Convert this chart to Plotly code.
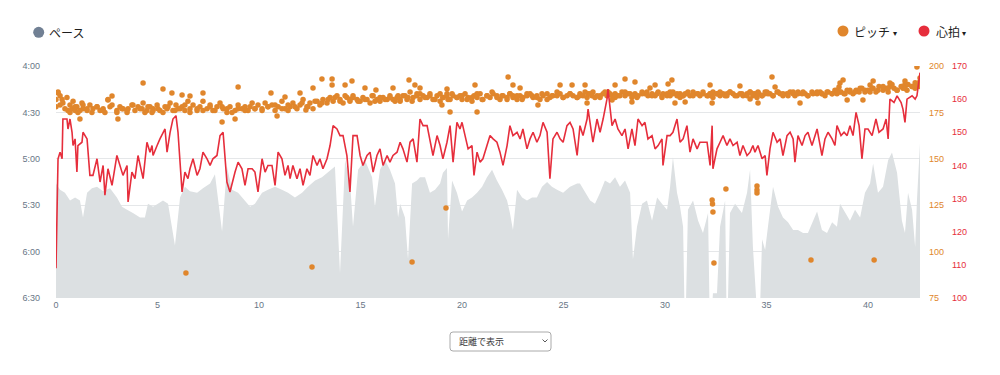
import plotly.graph_objects as go

# ---------------- data ----------------
dist_ticks = [0, 5, 10, 15, 20, 25, 30, 35, 40]
pace_ticks = [240, 270, 300, 330, 360, 390]
pace_labels = ["4:00", "4:30", "5:00", "5:30", "6:00", "6:30"]
cad_ticks = [75, 100, 125, 150, 175, 200]
hr_ticks = [100, 110, 120, 130, 140, 150, 160, 170]

pace_km = [
    0.00, 0.20, 0.44, 0.69, 0.94, 1.18, 1.33, 1.53, 1.77, 2.02,
    2.32, 2.66, 3.00, 3.25, 3.50, 3.79, 4.14, 4.38, 4.53, 4.78,
    5.02, 5.27, 5.52, 5.86, 6.11, 6.35, 6.60, 6.95, 7.24, 7.59,
    7.83, 8.18, 8.42, 8.67, 8.97, 9.31, 9.56, 9.80, 10.15, 10.44,
    10.79, 11.13, 11.43, 11.77, 12.12, 12.41, 12.76, 13.10, 13.40, 13.74,
    13.99, 14.24, 14.48, 14.63, 14.88, 15.22, 15.57, 15.71, 15.96, 16.21,
    16.45, 16.70, 16.85, 16.95, 17.19, 17.34, 17.54, 17.78, 17.93, 18.18,
    18.42, 18.67, 18.92, 19.06, 19.26, 19.31, 19.51, 19.75, 20.00, 20.25,
    20.49, 20.74, 20.99, 21.23, 21.48, 21.72, 21.97, 22.22, 22.36, 22.51,
    22.71, 22.96, 23.20, 23.45, 23.69, 23.94, 24.19, 24.43, 24.68, 24.98,
    25.32, 25.67, 25.81, 26.06, 26.31, 26.55, 26.80, 27.04, 27.29, 27.54,
    27.78, 28.03, 28.28, 28.42, 28.62, 28.87, 29.11, 29.36, 29.61, 29.85,
    30.10, 30.25, 30.39, 30.59, 30.74, 30.89, 30.99, 31.13, 31.38, 31.63,
    31.87, 32.12, 32.22, 32.36, 32.56, 32.71, 32.96, 33.05, 33.20, 33.45,
    33.79, 34.04, 34.19, 34.33, 34.53, 34.63, 34.78, 34.93, 35.07, 35.32,
    35.57, 35.81, 36.06, 36.31, 36.55, 36.80, 37.04, 37.29, 37.49, 37.73,
    37.98, 38.23, 38.47, 38.62, 38.87, 39.11, 39.36, 39.61, 39.85, 40.10,
    40.25, 40.49, 40.74, 40.99, 41.18, 41.43, 41.67, 41.82, 41.97, 42.17,
    42.32, 42.41, 42.56,
]
pace_sec = [
    316, 320, 322, 327, 325, 327, 338, 322, 319, 318,
    321, 319, 325, 331, 333, 335, 338, 338, 329, 331,
    329, 327, 329, 356, 325, 318, 321, 322, 319, 316,
    310, 347, 305, 320, 322, 327, 331, 329, 322, 320,
    318, 320, 322, 325, 322, 318, 314, 312, 309, 305,
    374, 301, 314, 344, 307, 301, 312, 331, 307, 301,
    307, 316, 338, 329, 338, 365, 316, 314, 312, 312,
    322, 320, 316, 309, 306, 352, 314, 322, 334, 327,
    325, 322, 318, 312, 307, 314, 320, 327, 335, 346,
    320, 325, 327, 325, 325, 318, 315, 318, 320, 322,
    318, 316, 316, 322, 327, 329, 322, 314, 316, 312,
    318, 314, 322, 365, 344, 329, 327, 340, 325, 329,
    333, 318, 299, 322, 331, 344, 420, 333, 327, 340,
    348, 335, 420, 387, 387, 344, 327, 420, 335, 329,
    335, 322, 307, 357, 420, 420, 352, 359, 344, 318,
    331, 338, 341, 346, 346, 348, 348, 340, 334, 346,
    348, 341, 344, 329, 335, 340, 333, 338, 322, 316,
    303, 322, 318, 301, 296, 309, 340, 348, 322, 333,
    357, 327, 290,
]
# cadence also logged at the pace sample points
cad_at_pace = [
    182, 179, 177, 175, 178, 176, 179, 177, 175, 178,
    176, 178, 175, 177, 176, 179, 177, 175, 178, 176,
    177, 175, 178, 176, 177, 179, 175, 177, 176, 178,
    176, 178, 177, 175, 177, 176, 178, 177, 176, 178,
    179, 177, 176, 178, 180, 178, 181, 180, 182, 183,
    181, 184, 182, 183, 181, 182, 184, 181, 183, 182,
    183, 181, 184, 182, 184, 183, 181, 184, 185, 183,
    184, 182, 185, 183, 184, 182, 185, 183, 184, 182,
    183, 185, 182, 184, 186, 183, 184, 182, 185, 183,
    184, 182, 185, 184, 183, 185, 182, 184, 186, 183,
    185, 183, 184, 186, 185, 183, 184, 186, 185, 183,
    184, 186, 185, 184, 183, 185, 186, 184, 185, 183,
    185, 184, 186, 185, 183, 184, 185, 186, 184, 185,
    186, 184, 185, 183, 185, 186, 184, 185, 186, 184,
    185, 184, 186, 185, 183, 185, 184, 186, 185, 184,
    186, 185, 184, 186, 185, 186, 184, 185, 186, 185,
    186, 185, 187, 186, 185, 187, 186, 188, 187, 186,
    188, 187, 189, 188, 190, 187, 189, 188, 190, 189,
    191, 189, 190,
]

hr_km = [
    0.00, 0.10, 0.20, 0.30, 0.34, 0.54, 0.59, 0.69, 0.79, 0.84,
    0.94, 1.03, 1.08, 1.28, 1.33, 1.53, 1.67, 1.82, 2.02, 2.17,
    2.32, 2.41, 2.56, 2.76, 3.00, 3.15, 3.30, 3.50, 3.55, 3.74,
    3.89, 4.04, 4.24, 4.29, 4.48, 4.63, 4.73, 4.78, 4.98, 5.12,
    5.37, 5.47, 5.62, 5.76, 5.91, 6.01, 6.21, 6.35, 6.50, 6.60,
    6.75, 6.95, 7.09, 7.24, 7.44, 7.59, 7.73, 7.93, 8.08, 8.23,
    8.42, 8.57, 8.82, 8.97, 9.16, 9.31, 9.46, 9.66, 9.80, 9.95,
    10.15, 10.30, 10.44, 10.64, 10.79, 10.94, 11.13, 11.28, 11.43, 11.53,
    11.67, 11.87, 12.02, 12.17, 12.36, 12.51, 12.66, 12.86, 13.00, 13.15,
    13.35, 13.50, 13.65, 13.84, 13.99, 14.14, 14.33, 14.48, 14.63, 14.83,
    14.98, 15.12, 15.32, 15.47, 15.62, 15.81, 15.96, 16.11, 16.31, 16.45,
    16.60, 16.80, 16.95, 17.09, 17.29, 17.44, 17.59, 17.78, 17.93, 18.08,
    18.28, 18.42, 18.57, 18.77, 18.92, 19.06, 19.26, 19.41, 19.56, 19.75,
    19.90, 20.00, 20.15, 20.30, 20.49, 20.59, 20.74, 20.89, 21.03, 21.23,
    21.38, 21.53, 21.72, 21.87, 22.02, 22.22, 22.36, 22.51, 22.71, 22.86,
    23.00, 23.20, 23.35, 23.50, 23.69, 23.84, 23.99, 24.19, 24.33, 24.48,
    24.68, 24.83, 24.98, 25.17, 25.32, 25.47, 25.67, 25.81, 25.96, 26.16,
    26.21, 26.40, 26.45, 26.65, 26.80, 26.95, 27.14, 27.19, 27.39, 27.54,
    27.68, 27.88, 28.03, 28.18, 28.37, 28.52, 28.67, 28.87, 29.01, 29.16,
    29.36, 29.51, 29.66, 29.85, 29.90, 30.10, 30.25, 30.39, 30.59, 30.74,
    30.89, 31.08, 31.23, 31.38, 31.58, 31.72, 31.87, 32.07, 32.22, 32.32,
    32.36, 32.56, 32.71, 32.86, 33.05, 33.20, 33.35, 33.55, 33.69, 33.84,
    34.04, 34.19, 34.33, 34.43, 34.58, 34.78, 34.93, 35.02, 35.17, 35.32,
    35.52, 35.67, 35.81, 36.01, 36.16, 36.31, 36.40, 36.55, 36.75, 36.90,
    37.04, 37.24, 37.49, 37.64, 37.73, 37.88, 38.03, 38.23, 38.37, 38.47,
    38.67, 38.82, 38.97, 39.11, 39.26, 39.41, 39.56, 39.70, 39.85, 40.00,
    40.20, 40.39, 40.54, 40.74, 40.89, 40.99, 41.08, 41.28, 41.43, 41.63,
    41.72, 41.82, 41.92, 42.17, 42.32, 42.41, 42.51, 42.56,
]
hr_bpm = [
    109, 142, 144, 142, 154, 154, 151, 154, 150, 146,
    148, 138, 146, 147, 150, 148, 137, 137, 142, 135,
    140, 131, 139, 134, 143, 140, 137, 140, 129, 138,
    136, 143, 138, 136, 147, 144, 146, 143, 146, 148,
    151, 144, 150, 154, 155, 150, 132, 138, 136, 139,
    142, 137, 139, 144, 142, 140, 142, 143, 149, 150,
    135, 132, 138, 141, 139, 134, 139, 139, 138, 132,
    142, 138, 140, 140, 134, 144, 142, 137, 140, 136,
    140, 136, 139, 134, 139, 137, 143, 140, 142, 139,
    142, 146, 152, 151, 149, 149, 143, 132, 149, 149,
    143, 140, 143, 144, 138, 143, 145, 140, 143, 141,
    143, 144, 147, 145, 141, 147, 148, 141, 154, 152,
    152, 148, 143, 149, 146, 142, 147, 152, 141, 153,
    151, 153, 149, 145, 146, 137, 144, 141, 142, 146,
    149, 148, 147, 144, 140, 146, 152, 149, 150, 148,
    151, 145, 148, 150, 147, 149, 153, 150, 136, 148,
    150, 148, 147, 152, 153, 151, 143, 152, 149, 154,
    157, 149, 147, 154, 150, 154, 160, 163, 152, 154,
    151, 149, 151, 145, 151, 146, 154, 152, 153, 148,
    149, 145, 146, 148, 140, 149, 149, 150, 154, 147,
    148, 152, 144, 148, 145, 147, 147, 147, 140, 152,
    139, 145, 147, 149, 146, 148, 146, 147, 143, 146,
    143, 144, 146, 144, 146, 142, 143, 137, 145, 150,
    147, 148, 143, 149, 150, 148, 141, 149, 146, 149,
    150, 146, 151, 146, 143, 148, 150, 148, 146, 152,
    149, 150, 149, 152, 149, 156, 152, 142, 151, 151,
    149, 154, 150, 151, 154, 148, 160, 159, 161, 159,
    157, 153, 160, 161, 160, 161, 166, 168,
]
# cadence sampled at the same points as heart rate
cad_spm = [
    178, 186, 184, 182, 180, 183, 176, 179, 177, 181,
    176, 178, 175, 180, 177, 176, 179, 177, 178, 176,
    177, 175, 182, 179, 176, 178, 177, 175, 177, 179,
    176, 178, 177, 180, 176, 178, 175, 177, 179, 176,
    178, 177, 180, 176, 179, 177, 178, 176, 181, 177,
    179, 176, 178, 181, 177, 179, 176, 178, 180, 177,
    175, 178, 176, 179, 177, 178, 176, 180, 177, 179,
    177, 180, 178, 179, 176, 178, 181, 177, 179, 178,
    180, 177, 179, 182, 178, 180, 177, 181, 179, 182,
    180, 183, 181, 184, 182, 180, 183, 181, 184, 182,
    181, 183, 182, 180, 184, 182, 181, 183, 182, 184,
    182, 183, 181, 184, 182, 186, 183, 185, 182, 184,
    183, 185, 182, 184, 181, 183, 185, 182, 184, 183,
    184, 182, 185, 183, 181, 184, 183, 185, 182, 184,
    183, 185, 184, 182, 184, 183, 185, 184, 182, 184,
    183, 184, 185, 183, 184, 182, 184, 185, 183, 184,
    184, 185, 183, 184, 185, 184, 183, 185, 184, 183,
    185, 184, 186, 184, 183, 185, 184, 186, 184, 185,
    184, 186, 184, 185, 183, 185, 184, 186, 185, 184,
    185, 184, 186, 184, 185, 184, 186, 185, 184, 185,
    184, 185, 184, 186, 185, 184, 185, 184, 185, 184,
    186, 185, 184, 185, 184, 186, 185, 184, 185, 184,
    185, 186, 184, 185, 186, 184, 185, 186, 185, 184,
    186, 185, 184, 185, 186, 185, 184, 186, 185, 185,
    184, 186, 185, 186, 185, 184, 186, 185, 187, 185,
    186, 185, 187, 186, 185, 187, 186, 188, 186, 187,
    188, 186, 189, 187, 188, 186, 189, 188, 187, 189,
    188, 190, 187, 189, 188, 190, 191, 189,
]
# extra cadence points (scatter above / below the main band)
cad_out_km = [
    6.40, 12.61, 17.54, 19.21, 32.32, 32.34, 32.36, 32.41, 33.00, 34.53,
    34.53, 34.53, 37.19, 40.30,
    4.29, 5.27, 2.76, 5.71, 6.21, 6.60, 7.24, 2.56, 8.18, 1.18,
    3.05, 8.97, 12.66, 13.10, 13.60, 13.60, 14.24, 14.58, 11.28, 10.59,
    12.02, 15.22, 15.76, 16.60, 8.82, 10.89, 12.31, 17.39, 22.27, 17.68,
    17.93, 19.26, 20.64, 22.51, 22.86, 24.83, 25.42, 19.41, 20.74, 19.01,
    23.74, 28.03, 28.52, 26.06, 27.54, 29.51, 30.34, 30.15, 29.26, 32.22,
    33.69, 26.16, 30.49, 32.32, 27.39, 28.37, 30.99, 35.27, 40.25, 38.62,
    38.77, 40.10, 41.08, 41.82, 42.41, 42.56, 42.51, 38.57, 35.42, 34.58,
    38.97, 39.75, 36.65, 34.19, 0.10,
]
cad_out_spm = [
    88.5, 91.7, 94.4, 123.5, 127.8, 125.6, 121.3, 93.9, 133.7, 135.3,
    133.2, 131.6, 95.5, 95.5,
    190.8, 187.6, 183.8, 185.5, 184.4, 183.8, 185.5, 181.7, 169.8, 171.4,
    171.4, 188.7, 188.1, 193.0, 193.0, 189.8, 189.8, 191.9, 183.3, 185.5,
    185.5, 188.1, 187.1, 188.1, 171.4, 173.1, 176.3, 192.5, 194.1, 189.8,
    188.1, 187.6, 189.8, 189.8, 188.1, 189.8, 189.8, 175.2, 175.2, 179.0,
    179.0, 193.0, 191.4, 189.8, 189.8, 189.8, 192.5, 190.3, 188.1, 189.8,
    189.2, 180.1, 180.1, 180.1, 181.7, 180.6, 180.6, 194.1, 191.9, 190.8,
    192.5, 189.8, 190.8, 191.9, 199.5, 193.5, 190.8, 188.7, 188.7, 180.1,
    181.7, 181.7, 180.1, 182.2, 185.5,
]

# ---------------- layout helpers ----------------
W, H = 1000, 375
ML, MR, MT, MB = 56, 10, 66, 77
PW = W - ML - MR
PH = H - MT - MB
X_END_PX = 920


def px(xp):
    return (xp - ML) / PW


def py(yp):
    return (H - MB - yp) / PH


ORANGE = "rgb(224,134,44)"
RED = "rgb(230,46,60)"
SLATE = "rgb(113,128,148)"
TICK = "rgb(104,118,134)"
AREA = "rgb(220,224,226)"
TICK_FONT = "Liberation Sans, Arial, sans-serif"
JP_FONT = "Noto Sans CJK JP, Noto Sans, sans-serif"

fig = go.Figure()

# baseline for the pace area
fig.add_trace(go.Scatter(x=[pace_km[0], pace_km[-1]], y=[pace_ticks[-1], pace_ticks[-1]],
                         mode="lines", line=dict(width=0), hoverinfo="skip",
                         showlegend=False, yaxis="y"))
fig.add_trace(go.Scatter(x=pace_km, y=pace_sec, mode="lines", fill="tonexty",
                         fillcolor=AREA, line=dict(width=0, color=AREA),
                         showlegend=False, yaxis="y", name="ペース"))
fig.add_trace(go.Scatter(x=hr_km + pace_km + cad_out_km,
                         y=cad_spm + cad_at_pace + cad_out_spm, mode="markers",
                         marker=dict(size=5.5, color=ORANGE, line=dict(width=0)),
                         showlegend=False, yaxis="y2", name="ピッチ"))
fig.add_trace(go.Scatter(x=hr_km, y=hr_bpm, mode="lines",
                         line=dict(color=RED, width=1.6),
                         showlegend=False, yaxis="y3", name="心拍"))

x_dom_end = px(X_END_PX)
fig.update_layout(
    width=W, height=H,
    margin=dict(l=ML, r=MR, t=MT, b=MB, pad=0),
    paper_bgcolor="white", plot_bgcolor="white",
    showlegend=False,
    xaxis=dict(domain=[0, x_dom_end], range=[0, pace_km[-1]], tickvals=dist_ticks,
               showgrid=False, zeroline=False, showline=False, ticks="",
               tickfont=dict(family=TICK_FONT, size=9, color=TICK)),
    yaxis=dict(range=[pace_ticks[-1], pace_ticks[0]], tickvals=pace_ticks, ticktext=pace_labels,
               showgrid=True, gridcolor="rgb(229,231,233)", gridwidth=1,
               zeroline=False, showline=False, ticks="", ticklabelstandoff=15,
               tickfont=dict(family=TICK_FONT, size=9, color=TICK)),
    yaxis2=dict(range=[cad_ticks[0], cad_ticks[-1]], tickvals=cad_ticks, overlaying="y",
                side="right", anchor="x", showgrid=False, zeroline=False, showline=False,
                ticks="", ticklabelstandoff=8,
                tickfont=dict(family=TICK_FONT, size=9, color=ORANGE)),
    yaxis3=dict(range=[hr_ticks[0], hr_ticks[-1]], tickvals=hr_ticks, overlaying="y",
                side="right", anchor="free", position=px(951), showgrid=False,
                zeroline=False, showline=False, ticks="",
                tickfont=dict(family=TICK_FONT, size=9, color=RED)),
)

shapes = []
annotations = []


def legend_dot(xc, yc, color):
    shapes.append(dict(type="circle", xref="paper", yref="paper",
                       xsizemode="pixel", ysizemode="pixel",
                       xanchor=px(xc), yanchor=py(yc),
                       x0=-5.5, x1=5.5, y0=-5.5, y1=5.5,
                       fillcolor=color, line=dict(width=0)))


def label(text, xl, yc, size=12, color="rgb(30,30,30)"):
    annotations.append(dict(text=text, xref="paper", yref="paper", x=px(xl), y=py(yc),
                            xanchor="left", yanchor="middle", showarrow=False,
                            font=dict(family=JP_FONT, size=size, color=color)))


legend_dot(38.7, 32.3, SLATE)
label("ペース", 47, 32.5)
legend_dot(843, 31, ORANGE)
label("ピッチ", 852, 31.5)
label("▾", 891, 32.5, size=8)
legend_dot(924, 31, RED)
label("心拍", 934, 31.5)
label("▾", 960, 32.5, size=8)

# distance selector box
bx0, bx1, by0, by1, r = 450, 551, 332, 351, 3
path = (f"M {px(bx0 + r)} {py(by0)} L {px(bx1 - r)} {py(by0)} "
        f"Q {px(bx1)} {py(by0)} {px(bx1)} {py(by0 + r)} L {px(bx1)} {py(by1 - r)} "
        f"Q {px(bx1)} {py(by1)} {px(bx1 - r)} {py(by1)} L {px(bx0 + r)} {py(by1)} "
        f"Q {px(bx0)} {py(by1)} {px(bx0)} {py(by1 - r)} L {px(bx0)} {py(by0 + r)} "
        f"Q {px(bx0)} {py(by0)} {px(bx0 + r)} {py(by0)} Z")
shapes.append(dict(type="path", xref="paper", yref="paper", path=path,
                   fillcolor="white", line=dict(color="rgb(170,170,170)", width=1)))
shapes.append(dict(type="path", xref="paper", yref="paper",
                   path=f"M {px(542.5)} {py(339.5)} L {px(545)} {py(342)} L {px(547.5)} {py(339.5)}",
                   line=dict(color="rgb(90,90,90)", width=1)))
label("距離で表示", 457, 341.5, size=9, color="rgb(60,60,60)")

fig.update_layout(shapes=shapes, annotations=annotations)

fig.write_html("out.html", config={"displayModeBar": False},
               post_script="document.body.style.margin='0px';document.body.style.overflow='hidden';")
